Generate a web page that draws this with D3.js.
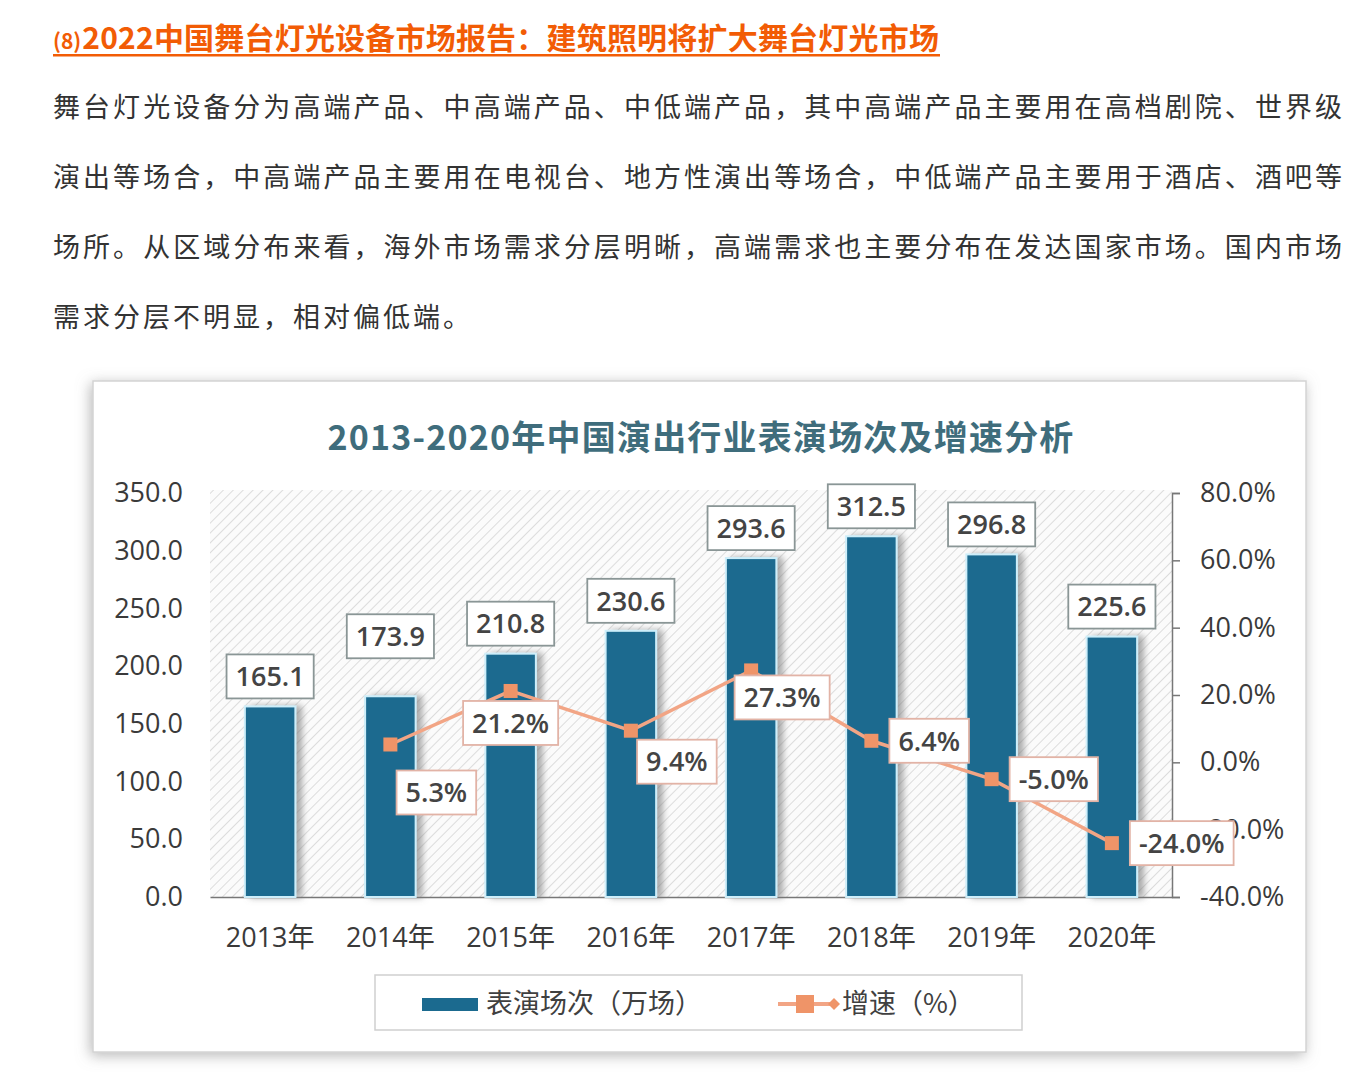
<!DOCTYPE html>
<html>
<head>
<meta charset="utf-8">
<script src="https://cdn.jsdelivr.net/npm/d3@7"></script>
<style>
  html, body { margin: 0; padding: 0; background: #fff; }
  svg { display: block; }
</style>
</head>
<body>
<svg id="page" width="1371" height="1089"></svg>
<script>
// ---------------- data ----------------
const headerTitle = "2022中国舞台灯光设备市场报告：建筑照明将扩大舞台灯光市场";
const paragraphLines = [
  "舞台灯光设备分为高端产品、中高端产品、中低端产品，其中高端产品主要用在高档剧院、世界级",
  "演出等场合，中高端产品主要用在电视台、地方性演出等场合，中低端产品主要用于酒店、酒吧等",
  "场所。从区域分布来看，海外市场需求分层明晰，高端需求也主要分布在发达国家市场。国内市场",
  "需求分层不明显，相对偏低端。"
];
const chartTitle = "2013-2020年中国演出行业表演场次及增速分析";
const years = ["2013年", "2014年", "2015年", "2016年", "2017年", "2018年", "2019年", "2020年"];
const performances = [165.1, 173.9, 210.8, 230.6, 293.6, 312.5, 296.8, 225.6];
const growth = [null, 5.3, 21.2, 9.4, 27.3, 6.4, -5.0, -24.0];
const leftTicks = [0, 50, 100, 150, 200, 250, 300, 350];
const rightTicks = [-40, -20, 0, 20, 40, 60, 80];
const seriesNames = ["表演场次（万场）", "增速（%）"];

// ---------------- page ----------------
const svg = d3.select("#page");
const cjk = "'Noto Sans CJK SC', 'Noto Sans', sans-serif";
const num = "'Open Sans', 'Noto Sans CJK SC', sans-serif";
const orange = "#f25c05";

// header
const h = svg.append("text").attr("x", 53).attr("y", 49)
  .attr("font-family", cjk).attr("font-weight", 700).attr("fill", orange);
h.append("tspan").attr("font-size", 21).text("(8)");
h.append("tspan").attr("font-size", 30).attr("dx", 1).attr("letter-spacing", 0.2).text(headerTitle);
svg.append("rect").attr("x", 53).attr("y", 54).attr("width", 887).attr("height", 2.5).attr("fill", orange);

// paragraph
paragraphLines.forEach((line, i) => {
  const t = svg.append("text").attr("x", 53).attr("y", 117 + i * 70)
    .attr("font-family", cjk).attr("font-size", 27).attr("fill", "#333")
    .text(line);
  if (i < paragraphLines.length - 1) {
    t.attr("textLength", 1289).attr("lengthAdjust", "spacing");
  } else {
    t.attr("letter-spacing", 3);
  }
});

// defs
const defs = svg.append("defs");
const frameShadow = defs.append("filter").attr("id", "frameShadow")
  .attr("x", "-5%").attr("y", "-5%").attr("width", "110%").attr("height", "110%");
frameShadow.append("feDropShadow").attr("dx", -2).attr("dy", 3).attr("stdDeviation", 7)
  .attr("flood-color", "#888").attr("flood-opacity", 0.6);
const barShadow = defs.append("filter").attr("id", "barShadow")
  .attr("x", "-30%").attr("y", "-5%").attr("width", "180%").attr("height", "110%");
barShadow.append("feDropShadow").attr("dx", 6).attr("dy", 0).attr("stdDeviation", 3)
  .attr("flood-color", "#777").attr("flood-opacity", 0.6);
const hatch = defs.append("pattern").attr("id", "hatch")
  .attr("patternUnits", "userSpaceOnUse").attr("width", 7).attr("height", 7)
  .attr("patternTransform", "rotate(45)");
hatch.append("rect").attr("width", 7).attr("height", 7).attr("fill", "#fbfbfb");
hatch.append("line").attr("x1", 0).attr("y1", 0).attr("x2", 0).attr("y2", 7)
  .attr("stroke", "#dcdcdc").attr("stroke-width", 2);

// chart frame
svg.append("rect").attr("x", 93).attr("y", 381).attr("width", 1213).attr("height", 671)
  .attr("fill", "#fff").attr("stroke", "#d4d4d4").attr("stroke-width", 1.5)
  .attr("filter", "url(#frameShadow)");

// chart title
svg.append("text").attr("x", 701).attr("y", 450).attr("text-anchor", "middle")
  .attr("font-family", cjk).attr("font-weight", 700).attr("font-size", 34)
  .attr("letter-spacing", 1.2)
  .attr("fill", "#3f6d7c").text(chartTitle);

// scales
const plot = { left: 210, right: 1172, top: 493, bottom: 897 };
const x = d3.scaleBand().domain(years).range([plot.left, plot.right]).padding(0);
const yL = d3.scaleLinear().domain([0, 350]).range([plot.bottom, plot.top]);
const yR = d3.scaleLinear().domain([-40, 80]).range([plot.bottom, plot.top]);
const barW = x.bandwidth() * 0.42;

// plot area hatch
svg.append("rect").attr("x", plot.left).attr("y", plot.top - 3)
  .attr("width", plot.right - plot.left).attr("height", plot.bottom - plot.top + 3)
  .attr("fill", "url(#hatch)");

// left axis
const gL = svg.append("g").attr("transform", `translate(${plot.left - 22},0)`)
  .call(d3.axisLeft(yL).tickValues(leftTicks).tickSize(0).tickPadding(5).tickFormat(d => d.toFixed(1)));
gL.select(".domain").remove();
gL.selectAll("text").attr("font-family", num).attr("font-size", 27).attr("fill", "#3a3a3a");

// right axis
const gR = svg.append("g").attr("transform", `translate(${plot.right},0)`)
  .call(d3.axisRight(yR).tickValues(rightTicks).tickSize(8).tickPadding(20).tickFormat(d => d.toFixed(1) + "%"));
gR.select(".domain").attr("stroke", "#777").attr("stroke-width", 1.5);
gR.selectAll(".tick line").attr("stroke", "#777").attr("stroke-width", 1.5);
gR.selectAll("text").attr("font-family", num).attr("font-size", 27).attr("fill", "#3a3a3a");

// bottom axis
const gB = svg.append("g").attr("transform", `translate(0,${plot.bottom})`)
  .call(d3.axisBottom(x).tickSize(0).tickPadding(31));
gB.select(".domain").attr("stroke", "#777").attr("stroke-width", 1.5);
gB.selectAll("text").attr("font-family", num).attr("font-size", 27).attr("fill", "#3a3a3a");

// bars
svg.append("g").selectAll("rect").data(performances).join("rect")
  .attr("x", (d, i) => x(years[i]) + x.bandwidth() / 2 - barW / 2)
  .attr("y", d => yL(d))
  .attr("width", barW)
  .attr("height", d => yL(0) - yL(d))
  .attr("fill", "#1b6a8f")
  .attr("stroke", "#cdeefa").attr("stroke-width", 2)
  .attr("filter", "url(#barShadow)");

// helper: label box
function labelBox(g, cx, cy, text, border) {
  const grp = g.append("g");
  const rect = grp.append("rect");
  const t = grp.append("text").attr("x", cx).attr("y", cy).attr("dy", "0.36em")
    .attr("text-anchor", "middle").attr("font-family", num).attr("font-size", 27)
    .attr("font-weight", 600).attr("fill", "#444").text(text);
  const w = t.node().getComputedTextLength() + 18;
  const hgt = 44;
  rect.attr("x", cx - w / 2).attr("y", cy - hgt / 2).attr("width", w).attr("height", hgt)
    .attr("fill", "#fff").attr("stroke", border).attr("stroke-width", 1.8);
  return w;
}

// bar labels (extra lift for the 2014 label, as in the source)
const barLabelLift = { 1: 30 };
const gLabels = svg.append("g");
performances.forEach((d, i) => {
  const cx = x(years[i]) + x.bandwidth() / 2;
  labelBox(gLabels, cx, yL(d) - 30 - (barLabelLift[i] || 0), d.toFixed(1), "#8a9696");
});

// growth line
const pts = growth.map((g, i) => ({ g, i })).filter(p => p.g !== null);
const cxOf = i => x(years[i]) + x.bandwidth() / 2;
svg.append("path").datum(pts)
  .attr("d", d3.line().x(p => cxOf(p.i)).y(p => yR(p.g)))
  .attr("fill", "none").attr("stroke", "#f2a585").attr("stroke-width", 3.5);
svg.append("g").selectAll("rect").data(pts).join("rect")
  .attr("x", p => cxOf(p.i) - 7).attr("y", p => yR(p.g) - 7)
  .attr("width", 14).attr("height", 14).attr("fill", "#ef9468");

// growth labels (placement relative to marker)
const placement = { 1: [46, 48], 2: [0, 32], 3: [46, 31], 4: [31, 27] };
const gLab2 = svg.append("g");
pts.forEach(p => {
  const text = p.g.toFixed(1) + "%";
  const px = cxOf(p.i), py = yR(p.g);
  if (placement[p.i]) {
    labelBox(gLab2, px + placement[p.i][0], py + placement[p.i][1], text, "#e2b3a6");
  } else {
    const tmp = gLab2.append("text").attr("font-family", num).attr("font-size", 27).attr("font-weight", 600).text(text);
    const w = tmp.node().getComputedTextLength() + 18;
    tmp.remove();
    labelBox(gLab2, px + 18 + w / 2, py, text, "#e2b3a6");
  }
});

// legend
const lg = svg.append("g");
lg.append("rect").attr("x", 375).attr("y", 975).attr("width", 647).attr("height", 55)
  .attr("fill", "#fff").attr("stroke", "#cfcfcf").attr("stroke-width", 1.5);
lg.append("rect").attr("x", 422).attr("y", 998).attr("width", 56).attr("height", 13).attr("fill", "#1b6a8f");
lg.append("text").attr("x", 486).attr("y", 1003).attr("dy", "0.36em")
  .attr("font-family", cjk).attr("font-size", 27).attr("fill", "#404040").text(seriesNames[0]);
lg.append("line").attr("x1", 778).attr("x2", 836).attr("y1", 1004).attr("y2", 1004)
  .attr("stroke", "#f2a585").attr("stroke-width", 4);
lg.append("rect").attr("x", 796).attr("y", 995).attr("width", 18).attr("height", 18).attr("fill", "#ef9468");
lg.append("path").attr("d", "M834,998 L840,1004 L834,1010 L828,1004 Z").attr("fill", "#ef9468");
lg.append("text").attr("x", 842).attr("y", 1003).attr("dy", "0.36em")
  .attr("font-family", cjk).attr("font-size", 27).attr("fill", "#404040").text(seriesNames[1]);
</script>
</body>
</html>
